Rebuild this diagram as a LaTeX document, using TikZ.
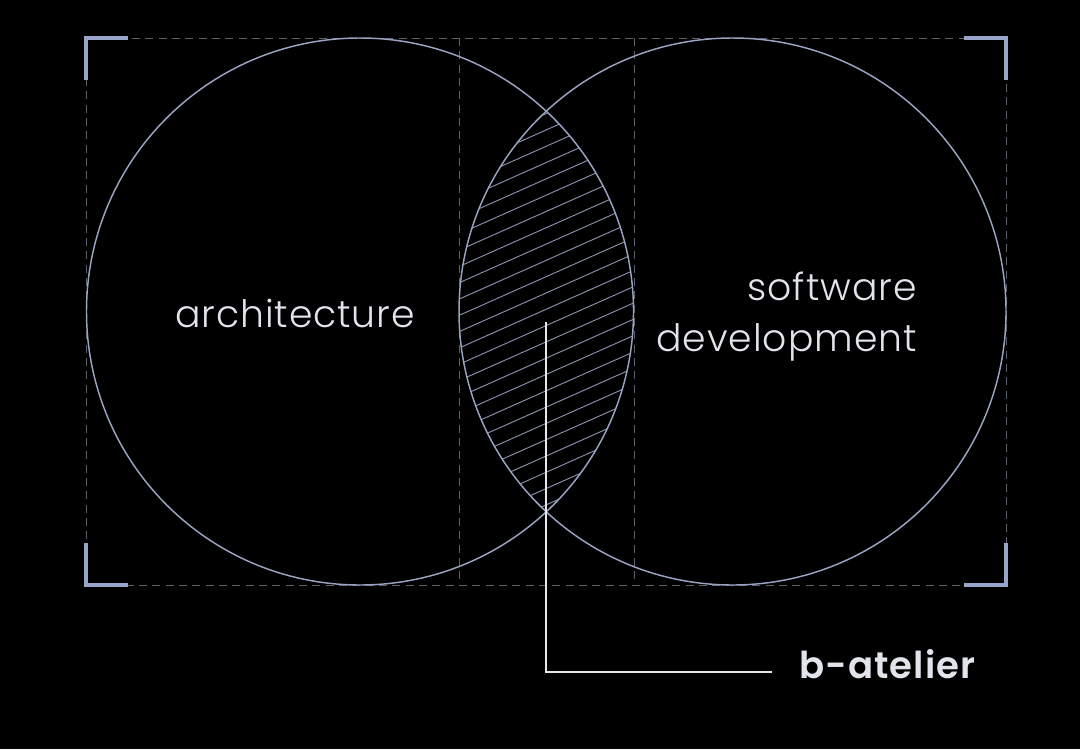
\documentclass[tikz,border=0pt]{standalone}
\usepackage{fontspec}
\setmainfont{Poppins}[UprightFont=* Light, BoldFont=* SemiBold]
\newfontfamily\labfont{Poppins}[UprightFont=* Light, LetterSpace=2.5]
\newfontfamily\batfont{Poppins}[UprightFont=* SemiBold, LetterSpace=3]
\definecolor{ring}{HTML}{9AA3C2}
\definecolor{hatch}{HTML}{8A92AC}
\definecolor{guide}{HTML}{5E616B}
\definecolor{brk}{HTML}{98A5C8}
\definecolor{txt}{HTML}{E2E4EC}
\definecolor{lead}{HTML}{E8E8EC}
\tikzset{
  ringline/.style={draw=ring, line width=1.1pt},
  guideline/.style={draw=guide, line width=0.6pt, dash pattern=on 6pt off 4pt},
  bracket/.style={draw=brk, line width=2.4pt, line cap=butt},
  hatchline/.style={draw=hatch, line width=0.7pt},
  label/.style={text=txt, font=\labfont\fontsize{28.3}{34}\selectfont, inner sep=0pt},
  leadline/.style={draw=lead, line width=0.9pt},
}
\begin{document}
\begin{tikzpicture}[x=0.75pt, y=-0.75pt]
\fill[black] (0,0) rectangle (1080,749);
\useasboundingbox (0,0) rectangle (1080,749);
% guides
\draw[guideline] (86,38) rectangle (1006,585);
\draw[guideline] (459,38) -- (459,585);
\draw[guideline] (634,38) -- (634,585);
% brackets
\draw[bracket] (86,80) -- (86,38) -- (128,38);
\draw[bracket] (964,38) -- (1006,38) -- (1006,80);
\draw[bracket] (86,543) -- (86,585) -- (128,585);
\draw[bracket] (964,585) -- (1006,585) -- (1006,543);
% hatching in the intersection
\begin{scope}
  \clip (360,311.5) circle [radius=273.5];
  \clip (732.5,311.5) circle [radius=273.5];
  \foreach \k in {-16,...,16} {
    \draw[hatchline] (420,{315+16.3*\k+0.445*40}) -- (680,{315+16.3*\k-0.445*220});
  }
\end{scope}
% circles
\node[circle, ringline, minimum size=410.25pt, inner sep=0pt] (arch) at (360,311.5) {};
\node[circle, ringline, minimum size=410.25pt, inner sep=0pt] (soft) at (732.5,311.5) {};
% labels
\node[label, anchor=base] (archl) at (295,327) {architecture};
\node[label, anchor=base east] (softl1) at (917,300) {software};
\node[label, anchor=base east] (softl2) at (917,351) {development};
\node[label, anchor=base west, font=\batfont\fontsize{27.8}{33}\selectfont] (bat) at (799,678) {b-atelier};
% leader
\coordinate (leadtop) at (546,322);
\coordinate (leadend) at ([xshift=-20.25pt]bat.base west);
\draw[leadline] (leadtop) |- ([yshift=4.5pt]leadend);
\end{tikzpicture}
\end{document}
